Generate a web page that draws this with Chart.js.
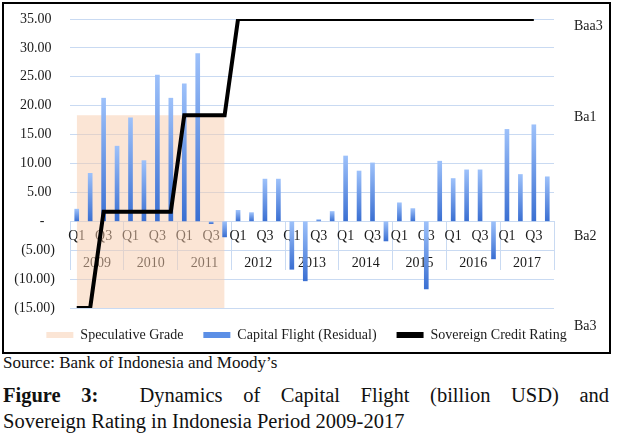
<!DOCTYPE html>
<html>
<head>
<meta charset="utf-8">
<script src="https://cdn.jsdelivr.net/npm/chart.js@4/dist/chart.umd.min.js"></script>
<style>
  body { margin: 0; background: #fff; font-family: 'Liberation Serif', 'Times New Roman', serif; color: #111; }
  #box { position: absolute; left: 2px; top: 2px; width: 605px; height: 348px; border: 2px solid #000; }
  #source { position: absolute; left: 3px; top: 353px; font-size: 17px; line-height: 20px; }
  #caption { position: absolute; left: 3px; top: 382px; width: 606px; font-size: 20.5px; line-height: 26px; }
  #caption .l1 { text-align: justify; text-align-last: justify; }
</style>
</head>
<body>
<div id="box"><canvas id="flightChart" width="605" height="348"></canvas></div>
<div id="source">Source: Bank of Indonesia and Moody’s</div>
<div id="caption">
  <div class="l1"><b>Figure 3:</b>&nbsp; Dynamics of Capital Flight (billion USD) and</div>
  <div>Sovereign Rating in Indonesia Period 2009-2017</div>
</div>
<script>
// quarters 2009Q1 .. 2017Q4
const years = ['2009', '2010', '2011', '2012', '2013', '2014', '2015', '2016', '2017'];
const quarters = years.flatMap(() => ['Q1', 'Q2', 'Q3', 'Q4']);

// capital flight (residual), billion USD
const capitalFlight = [
  2.1, 8.3, 21.3, 13.0,
  17.9, 10.5, 25.3, 21.3,
  23.8, 29.0, -0.4, -2.7,
  1.9, 1.5, 7.3, 7.3,
  -8.3, -10.3, 0.3, 1.7,
  11.3, 8.7, 10.1, -3.4,
  3.2, 2.2, -11.7, 10.4,
  7.4, 8.9, 8.9, -6.5,
  15.9, 8.1, 16.7, 7.7
];

// Moody's rating, 1 = Ba3 .. 4 = Baa3
const ratingNames = ['Ba3', 'Ba2', 'Ba1', 'Baa3'];
const sovereignRating = [
  1, 1, 2, 2,
  2, 2, 2, 2,
  3, 3, 3, 3,
  4, 4, 4, 4,
  4, 4, 4, 4,
  4, 4, 4, 4,
  4, 4, 4, 4,
  4, 4, 4, 4,
  4, 4, 4, null
];

// speculative grade band (up to Ba1) for 2009-2011
const speculativeGrade = [
  3, 3, 3, 3, 3, 3, 3, 3, 3, 3, 3, 3,
  null, null, null, null, null, null, null, null, null, null, null, null,
  null, null, null, null, null, null, null, null, null, null, null, null
];

const gridColor = '#c9daf2';
const axisFont = { family: "'Liberation Serif', 'Times New Roman', serif", size: 14 };

Chart.defaults.font.family = axisFont.family;
Chart.defaults.font.size = 14;
Chart.defaults.color = '#1a1a1a';

function barFill(ctx) {
  const chart = ctx.chart;
  const y = chart.scales.y;
  if (!chart.chartArea || !y || ctx.type !== 'data') return '#5b8fe6';
  const v = ctx.raw;
  const top = y.getPixelForValue(Math.max(v, 0));
  const bot = y.getPixelForValue(Math.min(v, 0));
  if (!isFinite(top) || !isFinite(bot) || bot - top < 1) return '#5b8fe6';
  const g = chart.ctx.createLinearGradient(0, top, 0, bot);
  g.addColorStop(0, '#9dc1fa');
  g.addColorStop(1, '#3a6fd2');
  return g;
}

function money(v) {
  if (v === 0) return '-   ';
  if (v < 0) return '(' + Math.abs(v).toFixed(2) + ')';
  return v.toFixed(2) + ' ';
}

// label nudges so the rating names sit where the original put them
const ratingLabelNudge = [-0.19, -0.26, -0.02, -0.08];

// keep tick padding from pushing the plot area down
function fixAxis(width) {
  return (s) => {
    s.width = width;
    s.paddingTop = 0;
    s.paddingBottom = 0;
  };
}

new Chart(document.getElementById('flightChart'), {
  type: 'bar',
  data: {
    labels: quarters,
    datasets: [
      {
        type: 'line',
        label: 'Speculative Grade',
        data: speculativeGrade,
        yAxisID: 'yR',
        fill: 'start',
        backgroundColor: 'rgba(247, 203, 172, 0.5)',
        borderWidth: 0,
        pointRadius: 0,
        order: 3
      },
      {
        label: 'Capital Flight (Residual)',
        data: capitalFlight,
        yAxisID: 'y',
        backgroundColor: barFill,
        barThickness: 4,
        order: 2
      },
      {
        type: 'line',
        label: 'Sovereign Credit Rating',
        data: sovereignRating,
        yAxisID: 'yR',
        borderColor: '#000',
        backgroundColor: '#000',
        borderWidth: 4,
        borderJoinStyle: 'miter',
        pointRadius: 0,
        fill: false,
        order: 1
      }
    ]
  },
  options: {
    animation: false,
    responsive: false,
    layout: { padding: { top: 15, bottom: 0, left: 0, right: 0 } },
    plugins: {
      tooltip: { enabled: false },
      legend: {
        position: 'bottom',
        labels: {
          boxWidth: 27,
          boxHeight: 6,
          padding: 20,
          color: '#1a1a1a',
          font: axisFont,
          sort: (a, b) => a.datasetIndex - b.datasetIndex,
          generateLabels: (chart) => {
            const items = Chart.defaults.plugins.legend.labels.generateLabels(chart);
            items.forEach(it => {
              it.lineWidth = 0;
              if (it.datasetIndex === 1) it.fillStyle = '#5b8fe6';
              if (it.datasetIndex === 2) it.fillStyle = '#000';
            });
            return items;
          }
        }
      }
    },
    scales: {
      x: {
        position: { y: 0 },
        offset: true,
        grid: {
          offset: true,
          drawOnChartArea: false,
          drawTicks: true,
          tickLength: 49,
          color: (c) => (c.type !== 'tick' || c.index % 4 === 0) ? gridColor : 'rgba(0,0,0,0)'
        },
        border: { display: false },
        ticks: {
          autoSkip: false,
          maxRotation: 0,
          padding: -42,
          font: axisFont,
          callback: (v, i) => (i % 2 === 0 ? quarters[i] : '')
        }
      },
      x2: {
        type: 'category',
        labels: years,
        position: { y: 0 },
        offset: true,
        grid: { display: false },
        border: { display: false },
        ticks: { autoSkip: false, maxRotation: 0, padding: 26, font: axisFont }
      },
      y: {
        position: 'left',
        min: -15,
        max: 35,
        grid: { color: gridColor, drawTicks: false },
        border: { display: false },
        ticks: { stepSize: 5, padding: 15, font: axisFont, callback: (v) => money(v) },
        afterFit: fixAxis(66)
      },
      yR: {
        position: 'right',
        min: 1,
        max: 4,
        grid: { display: false },
        border: { display: false },
        afterBuildTicks: (s) => {
          s.ticks = ratingNames.map((n, i) => ({ value: i + 1 + ratingLabelNudge[i] }));
        },
        afterFit: fixAxis(55),
        ticks: { padding: 12, font: axisFont, callback: (v, i) => ratingNames[i] }
      }
    }
  }
});
</script>
</body>
</html>
